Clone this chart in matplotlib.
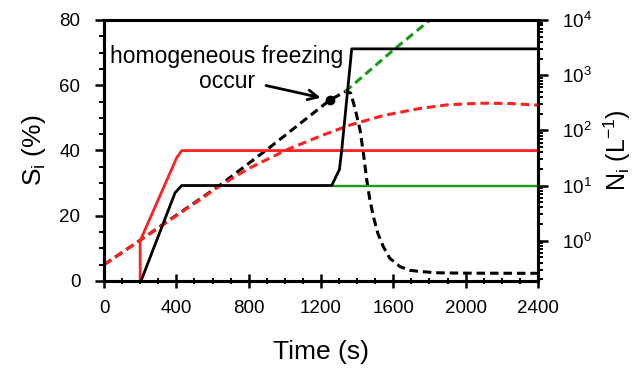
import matplotlib
matplotlib.use("Agg")
import matplotlib.pyplot as plt
from matplotlib.ticker import MultipleLocator, LogLocator, NullFormatter

plt.rcParams['font.family'] = ['Liberation Sans', 'DejaVu Sans']
plt.rcParams['mathtext.fontset'] = 'custom'
plt.rcParams['mathtext.rm'] = 'Liberation Sans'
plt.rcParams['mathtext.it'] = 'Liberation Sans:italic'

# Si (%) dashed curves, left axis
t_si_red = [0, 200, 400, 642, 800, 1010, 1200, 1360, 1550, 1748, 1900, 2080, 2250, 2400]
si_red = [5, 12.5, 20, 29.2, 34.5, 40.2, 44.5, 47.8, 50.8, 52.9, 54, 54.5, 54.4, 53.9]
t_si_black = [0, 200, 430, 642, 918, 1250, 1342, 1365, 1390, 1416, 1435, 1453, 1470, 1490,
              1515, 1545, 1580, 1637, 1690, 1748, 1850, 2000, 2400]
si_black = [5, 12.5, 21.3, 29.4, 41, 55.5, 58.3, 57.5, 52.5, 46.3, 39, 31, 25, 19.7,
            14.5, 10.5, 7, 4.4, 3.3, 2.9, 2.5, 2.4, 2.35]
t_si_green = [1333, 1600, 1803, 1900]
si_green = [58, 70.8, 80, 84.5]

# Ni (L^-1) solid curves, right axis
t_ni_red = [200, 200, 402, 430, 2400]
ni_red = [0.1, 1.0, 32, 43, 43]
t_ni_black = [200, 393, 430, 1259, 1302, 1315, 1370, 2400]
ni_black = [0.17, 7.4, 10, 10, 19.5, 45, 3000, 3000]
t_ni_green = [1267, 2400]
ni_green = [10, 10]

dot_t, dot_si = 1250, 55.5

fig = plt.figure(figsize=(6.35, 3.69), dpi=100)
ax = fig.add_axes([0.1638, 0.2385, 0.6834, 0.7073])
ax2 = ax.twinx()

dash = (2.8, 1.6)
ax.plot(t_si_black, si_black, color='black', lw=2.2, dashes=dash)
ax.plot(t_si_green, si_green, color='#1a9a1a', lw=2.2, dashes=dash)
ax.plot(t_si_red, si_red, color='#ff2020', lw=2.2, dashes=dash)
ax.plot([dot_t], [dot_si], 'o', color='black', ms=6)

ax2.plot(t_ni_green, ni_green, color='#1a9a1a', lw=1.7)
ax2.plot(t_ni_red, ni_red, color='#ff2020', lw=2.0)
ax2.plot(t_ni_black, ni_black, color='black', lw=2.0)

ax.set_xlim(0, 2400)
ax.set_ylim(0, 80)
ax2.set_yscale('log')
ax2.set_ylim(0.186, 1e4)

ax.text(678, 65, "homogeneous freezing\noccur", ha='center', va='center',
        fontsize=16.5, multialignment='center', linespacing=1.15)
ax.annotate('', xy=(1213, 56), xytext=(881, 60.1),
            arrowprops=dict(arrowstyle='->,head_length=0.7,head_width=0.35', lw=2, color='black'))

ax.xaxis.set_major_locator(MultipleLocator(400))
ax.xaxis.set_minor_locator(MultipleLocator(100))
ax.yaxis.set_major_locator(MultipleLocator(20))
ax.yaxis.set_minor_locator(MultipleLocator(5))
ax2.yaxis.set_major_locator(LogLocator(base=10, numticks=10))
ax2.yaxis.set_minor_locator(LogLocator(base=10, subs=range(2, 10), numticks=20))
ax2.yaxis.set_minor_formatter(NullFormatter())

ax.tick_params(axis='x', which='major', direction='inout', length=10, width=1.8, labelsize=13.5, pad=9)
ax.tick_params(axis='x', which='minor', direction='inout', length=5, width=1.4)
ax.tick_params(axis='y', which='major', direction='out', length=6.5, width=1.8, labelsize=13.5, pad=10.5)
ax.tick_params(axis='y', which='minor', direction='out', length=3.5, width=1.4)
ax2.tick_params(axis='y', which='major', direction='out', length=7, width=1.8, labelsize=13.5, pad=10)
ax2.tick_params(axis='y', which='minor', direction='out', length=3.5, width=1.4)

for a in (ax, ax2):
    for s in a.spines.values():
        s.set_linewidth(2.2)

ax.set_xlabel('Time (s)', fontsize=19, labelpad=16)
ax.set_ylabel(r'S$_\mathrm{i}$ (%)', fontsize=19, labelpad=8)
ax2.set_ylabel(r'N$_\mathrm{i}$ (L$^{-1}$)', fontsize=18, labelpad=7)

fig.savefig('out.png', dpi=100)
